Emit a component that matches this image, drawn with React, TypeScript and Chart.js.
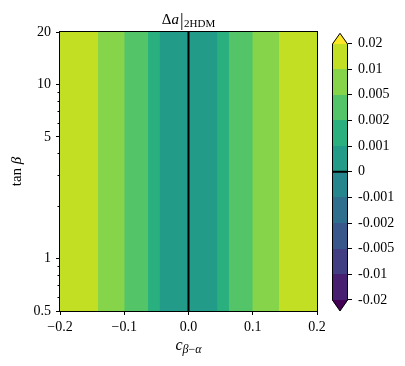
import React, { useEffect, useRef } from 'react';
import { Chart, registerables } from 'chart.js';
Chart.register(...registerables);

const FONT = "'Liberation Serif', 'Times New Roman', serif";

// ---- data ----
// nested contour regions: region i spans [regionLeft[i], regionRight[i]] (full tan beta range)
const regionLeft = [-0.2, -0.141, -0.1, -0.063, -0.045];
const regionRight = [0.2, 0.141, 0.1, 0.063, 0.045];
// lower contour level of the band colour filling each region
const regionLevel = [0.01, 0.005, 0.002, 0.001, 0];
const zeroLineX = [0, 0];
const yRange = [0.5, 20];

const xTicks = [-0.2, -0.1, 0, 0.1, 0.2];
const xTickLabels = ['\u22120.2', '\u22120.1', '0.0', '0.1', '0.2'];
const yMajor = [0.5, 1, 5, 10, 20];
const yMinor = [0.6, 0.7, 0.8, 0.9, 2, 3, 4, 6, 7, 8, 9];

const cbLevels = [-0.02, -0.01, -0.005, -0.002, -0.001, 0, 0.001, 0.002, 0.005, 0.01, 0.02];
const cbLabels = ['-0.02', '-0.01', '-0.005', '-0.002', '-0.001', '0', '0.001', '0.002', '0.005', '0.01', '0.02'];
// under, 10 intervals, over (viridis)
const cbColors = ['#440154', '#482071', '#423e84', '#38588b', '#2e6f8e', '#25868d', '#229b88', '#2ab07f', '#53c468', '#86d449', '#c2df23', '#fde725'];

type Run = { t: string; font: string; dy?: number; gap?: number; w?: number };

function drawRuns(ctx: CanvasRenderingContext2D, runs: Run[], cx: number, y: number) {
  let total = 0;
  runs.forEach((r) => {
    ctx.font = r.font;
    r.w = ctx.measureText(r.t).width + (r.gap || 0);
    total += r.w;
  });
  let x = cx - total / 2;
  ctx.textAlign = 'left';
  ctx.textBaseline = 'alphabetic';
  runs.forEach((r) => {
    ctx.font = r.font;
    ctx.fillText(r.t, x, y + (r.dy || 0));
    x += r.w || 0;
  });
}

const decorPlugin = {
  id: 'decor',
  afterDraw(chart: any) {
    const ctx: CanvasRenderingContext2D = chart.ctx;
    const ca = chart.chartArea;
    ctx.save();
    // frame
    ctx.strokeStyle = '#000';
    ctx.lineWidth = 1;
    ctx.strokeRect(Math.round(ca.left) - 0.5, Math.round(ca.top) - 0.5, Math.round(ca.right - ca.left) + 1, Math.round(ca.bottom - ca.top) + 1);

    // colorbar
    const cb = chart.scales.cb;
    const x1 = Math.round(cb.left);
    const w = 16;
    const x0 = x1 - w;
    const mid = (x0 + x1) / 2;
    const yAt = (v: number) => Math.round(cb.getPixelForValue(v));
    const n = cbLevels.length - 1;
    for (let i = 0; i < n; i++) {
      const ya = yAt(i + 1);
      const yb = yAt(i);
      ctx.fillStyle = cbColors[i + 1];
      ctx.fillRect(x0, ya, w, yb - ya);
    }
    const yTop = yAt(n);
    const yBot = yAt(0);
    const tipTop = cb.getPixelForValue(n + 0.4);
    const tipBot = cb.getPixelForValue(-0.43);
    ctx.fillStyle = cbColors[cbColors.length - 1];
    ctx.beginPath();
    ctx.moveTo(x0, yTop);
    ctx.lineTo(mid, tipTop);
    ctx.lineTo(x1, yTop);
    ctx.closePath();
    ctx.fill();
    ctx.fillStyle = cbColors[0];
    ctx.beginPath();
    ctx.moveTo(x0, yBot);
    ctx.lineTo(mid, tipBot);
    ctx.lineTo(x1, yBot);
    ctx.closePath();
    ctx.fill();
    // zero contour on colorbar
    const yz = cb.getPixelForValue(cbLevels.indexOf(0));
    ctx.strokeStyle = '#000';
    ctx.lineWidth = 2;
    ctx.beginPath();
    ctx.moveTo(x0, yz);
    ctx.lineTo(x1, yz);
    ctx.stroke();
    // outline
    ctx.lineWidth = 1;
    ctx.beginPath();
    ctx.moveTo(x0 + 0.5, yTop);
    ctx.lineTo(mid, tipTop);
    ctx.lineTo(x1 - 0.5, yTop);
    ctx.lineTo(x1 - 0.5, yBot);
    ctx.lineTo(mid, tipBot);
    ctx.lineTo(x0 + 0.5, yBot);
    ctx.closePath();
    ctx.stroke();

    // texts
    ctx.fillStyle = '#000';
    const cx = (ca.left + ca.right) / 2;
    drawRuns(ctx, [
      { t: '\u0394', font: `15px ${FONT}` },
      { t: 'a', font: `italic 15px ${FONT}`, gap: 1 },
      { t: '|', font: `18px ${FONT}`, dy: 2, gap: 0.5 },
      { t: '2HDM', font: `11px ${FONT}`, dy: 3 },
    ], cx, 24);
    drawRuns(ctx, [
      { t: 'c', font: `italic 16px ${FONT}` },
      { t: '\u03b2', font: `italic 12px ${FONT}`, dy: 3 },
      { t: '\u2212', font: `12px ${FONT}`, dy: 3 },
      { t: '\u03b1', font: `italic 12px ${FONT}`, dy: 3 },
    ], cx, 350);
    ctx.save();
    ctx.translate(21, (ca.top + ca.bottom) / 2);
    ctx.rotate(-Math.PI / 2);
    drawRuns(ctx, [
      { t: 'tan ', font: `15px ${FONT}` },
      { t: '\u03b2', font: `italic 15px ${FONT}` },
    ], 0, 0);
    ctx.restore();
    ctx.restore();
  },
};

export default function App() {
  const ref = useRef<HTMLCanvasElement>(null);
  useEffect(() => {
    document.body.style.margin = '0';
    const canvas = ref.current!;
    const colorFor = (lv: number) => cbColors[cbLevels.indexOf(lv) + 1];
    const datasets: any[] = regionLevel.map((lv, i) => ({
      type: 'line',
      data: [
        { x: regionLeft[i], y: yRange[1] },
        { x: regionRight[i], y: yRange[1] },
      ],
      fill: { value: yRange[0] },
      backgroundColor: colorFor(lv),
      borderColor: 'rgba(0,0,0,0)',
      borderWidth: 0,
      pointRadius: 0,
      order: 10 - i,
    }));
    datasets.push({
      type: 'line',
      data: [
        { x: zeroLineX[0], y: yRange[0] },
        { x: zeroLineX[1], y: yRange[1] },
      ],
      borderColor: '#000',
      borderWidth: 2,
      pointRadius: 0,
      fill: false,
      order: -1,
    });
    const tickFont = { family: FONT, size: 14 };
    const chart = new Chart(canvas, {
      type: 'line',
      data: { datasets },
      plugins: [decorPlugin],
      options: {
        animation: false,
        responsive: false,
        events: [],
        layout: { padding: { top: 32, left: 0, right: 0, bottom: 0 } },
        plugins: { legend: { display: false }, tooltip: { enabled: false } },
        scales: {
          x: {
            type: 'linear',
            position: 'bottom',
            min: -0.2,
            max: 0.2,
            afterBuildTicks: (s: any) => { s.ticks = xTicks.map((v) => ({ value: v })); },
            afterFit: (s: any) => { s.height = 55; },
            ticks: {
              autoSkip: false,
              maxRotation: 0,
              padding: 4,
              color: '#000',
              font: tickFont,
              callback: (_v: any, i: number) => xTickLabels[i],
            },
            grid: { display: true, drawOnChartArea: false, drawTicks: true, tickLength: 4, tickColor: '#000', tickWidth: 1 },
            border: { display: false },
          },
          y: {
            type: 'logarithmic',
            position: 'left',
            min: yRange[0],
            max: yRange[1],
            afterBuildTicks: (s: any) => {
              s.ticks = [...yMajor, ...yMinor].sort((a, b) => a - b).map((v) => ({ value: v }));
            },
            afterFit: (s: any) => { s.width = 60; },
            ticks: {
              autoSkip: false,
              padding: 5,
              color: '#000',
              font: tickFont,
              callback: (v: any) => (yMajor.includes(Number(v)) ? String(v) : ''),
            },
            grid: {
              display: true,
              drawOnChartArea: false,
              drawTicks: true,
              tickLength: 4,
              tickColor: '#000',
              tickWidth: 1,
              tickBorderDash: (c: any) => (c.tick && yMajor.includes(c.tick.value) ? [] : [0, 1.5, 2.5, 100]),
            },
            border: { display: false },
          },
          gap: {
            type: 'linear',
            position: 'right',
            weight: 0,
            display: true,
            afterFit: (s: any) => { s.width = 31; },
            ticks: { display: false },
            grid: { display: false },
            border: { display: false },
          },
          cb: {
            type: 'linear',
            position: 'right',
            weight: 1,
            min: -0.43,
            max: cbLevels.length - 1 + 0.45,
            afterBuildTicks: (s: any) => { s.ticks = cbLevels.map((_v, i) => ({ value: i })); },
            afterFit: (s: any) => { s.width = 57; },
            ticks: {
              autoSkip: false,
              padding: 6,
              color: '#000',
              font: tickFont,
              callback: (v: any) => cbLabels[Math.round(Number(v))],
            },
            grid: { display: true, drawOnChartArea: false, drawTicks: true, tickLength: 4, tickColor: '#000', tickWidth: 1 },
            border: { display: false },
          },
        },
      } as any,
    });
    return () => chart.destroy();
  }, []);
  return (
    <div style={{ width: 405, height: 366 }}>
      <canvas ref={ref} width={405} height={366} style={{ display: 'block' }} />
    </div>
  );
}
